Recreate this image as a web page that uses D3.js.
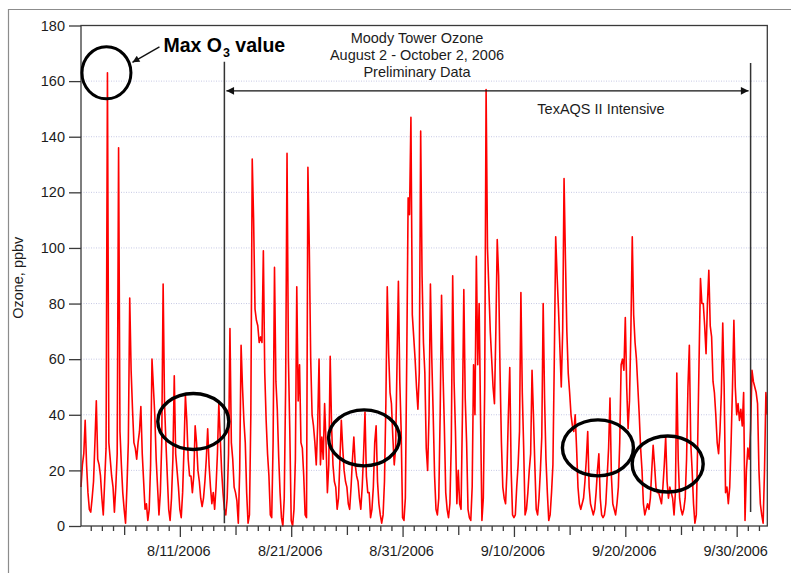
<!DOCTYPE html>
<html>
<head>
<meta charset="utf-8">
<script src="https://cdn.jsdelivr.net/npm/d3@7"></script>
<style>
  html, body { margin: 0; padding: 0; background: #fff; }
  svg { display: block; font-family: "Liberation Sans", Arial, Helvetica, sans-serif; }
</style>
</head>
<body>
<svg id="chart" width="791" height="573"></svg>
<script>
// Moody Tower ozone, 3-hourly readings (ppbv), first reading 2006-08-02 03:00 local time
const startTime = "2006-08-02T03:00";
const stepHours = 3;
const ozone = [
  /* Aug 02 */      14, 22, 26, 38, 22, 12, 6,
  /* Aug 03 */  5, 10, 16, 30, 45, 24, 22, 18,
  /* Aug 04 */ 10,  4, 16, 28, 163, 30, 24, 18,
  /* Aug 05 */ 14,  5, 14, 26, 136, 34, 22, 12,
  /* Aug 06 */  6,  1, 14, 30, 82, 56, 42, 30,
  /* Aug 07 */ 28, 24, 30, 34, 43, 26, 16, 6,
  /* Aug 08 */  8,  2,  6, 22, 60, 50, 40, 24,
  /* Aug 09 */ 14,  4, 12, 30, 87, 44, 30, 18,
  /* Aug 10 */  6,  2, 10, 24, 54, 26, 20, 14,
  /* Aug 11 */  6,  3, 12, 28, 47, 38, 24, 18,
  /* Aug 12 */ 18, 12, 18, 36, 30, 20, 16, 10,
  /* Aug 13 */  7, 10, 16, 24, 35, 22, 14, 8,
  /* Aug 14 */ 12,  6, 14, 26, 44, 32, 20, 12,
  /* Aug 15 */  6,  4, 10, 26, 71, 30, 24, 14,
  /* Aug 16 */ 12,  9,  1, 20, 65, 50, 38, 30,
  /* Aug 17 */ 12,  1,  4, 40, 132, 110, 78, 74,
  /* Aug 18 */ 72, 66, 68, 66, 99, 55, 38, 26,
  /* Aug 19 */ 18,  4,  3, 30, 93, 52, 42, 25,
  /* Aug 20 */ 12,  3,  0, 10, 50, 134, 60, 34,
  /* Aug 21 */  2,  0,  6, 24, 86, 45, 58, 30,
  /* Aug 22 */ 28, 18,  4,  3, 129, 100, 60, 40,
  /* Aug 23 */ 36, 30, 22, 36, 60, 22, 32, 24,
  /* Aug 24 */ 44, 30, 12, 22, 61, 36, 22, 16,
  /* Aug 25 */ 14,  6, 10, 24, 38, 28, 20, 16,
  /* Aug 26 */ 14,  8,  6, 14, 24, 32, 22, 18,
  /* Aug 27 */ 16, 10,  6, 14, 26, 41, 18, 12,
  /* Aug 28 */ 12,  3,  6, 14, 30, 36, 16, 8,
  /* Aug 29 */  4,  1,  4, 16, 44, 86, 62, 48,
  /* Aug 30 */ 44, 32, 22, 28, 58, 88, 52, 34,
  /* Aug 31 */  3,  2, 10, 60, 118, 112, 147, 76,
  /* Sep 01 */ 68, 60, 50, 42, 55, 142, 90, 66,
  /* Sep 02 */ 55, 28, 20, 40, 87, 60, 40, 18,
  /* Sep 03 */  6,  4, 10, 40, 83, 56, 36, 12,
  /* Sep 04 */  6,  3,  8, 30, 90, 52, 34, 8,
  /* Sep 05 */ 20,  8,  6, 40, 85, 46, 30, 6,
  /* Sep 06 */  3,  2, 14, 58, 40, 97, 58, 80,
  /* Sep 07 */ 40,  2, 10, 50, 157, 100, 85, 70,
  /* Sep 08 */ 60, 50, 44, 70, 103, 90, 56, 30,
  /* Sep 09 */ 14, 10,  8, 20, 40, 57, 20, 4,
  /* Sep 10 */  3,  4, 14, 22, 34, 84, 48, 28,
  /* Sep 11 */  4,  6, 12, 20, 26, 56, 40, 22,
  /* Sep 12 */  6,  4, 10, 20, 32, 80, 46, 24,
  /* Sep 13 */ 12,  2,  4, 12, 22, 60, 104, 90,
  /* Sep 14 */ 78, 64, 50, 70, 125, 96, 70, 55,
  /* Sep 15 */ 48, 40, 36, 34, 40, 28, 14, 8,
  /* Sep 16 */  6,  8, 10, 16, 24, 34, 14, 8,
  /* Sep 17 */  6,  4,  6, 12, 20, 26, 10, 4,
  /* Sep 18 */  3,  4,  8, 18, 28, 46, 18, 8,
  /* Sep 19 */  6,  4,  8, 14, 30, 58, 60, 56,
  /* Sep 20 */ 75, 50, 35, 45, 70, 104, 76, 66,
  /* Sep 21 */ 60, 50, 40, 28, 20,  8,  4, 6,
  /* Sep 22 */  8,  6, 10, 20, 29, 22, 14, 12,
  /* Sep 23 */ 12, 10,  8, 14, 22, 32, 16, 10,
  /* Sep 24 */ 14, 12, 10,  4, 12, 55, 24, 10,
  /* Sep 25 */  6,  4,  6, 10, 24, 50, 65, 30,
  /* Sep 26 */ 20,  8,  1,  4, 30, 60, 89, 80,
  /* Sep 27 */ 80, 72, 62, 80, 92, 72, 68, 52,
  /* Sep 28 */ 48, 40, 30, 26, 34, 48, 73, 50,
  /* Sep 29 */ 12, 14,  8, 14, 30, 50, 74, 50,
  /* Sep 30 */ 40, 44, 38, 42, 36, 48,  2, 20,
  /* Oct 01 */ 28, 24, 35, 56, 52, 50, 48, 44,
  /* Oct 02 */ 20,  8,  4,  1, 20, 48, 40
];

const yTicks = [0, 20, 40, 60, 80, 100, 120, 140, 160, 180];
const xLabelDates = ["2006-08-11", "2006-08-21", "2006-08-31", "2006-09-10", "2006-09-20", "2006-09-30"];
const xLabelTexts = ["8/11/2006", "8/21/2006", "8/31/2006", "9/10/2006", "9/20/2006", "9/30/2006"];
const titleLines = ["Moody Tower Ozone", "August 2 - October 2, 2006", "Preliminary Data"];
const yAxisTitle = "Ozone, ppbv";
const intensiveLabel = "TexAQS II Intensive";
const intensiveStart = "2006-08-15T00:00";
const intensiveEnd = "2006-10-01T06:00";
// low-ozone stretches that are ringed on the plot
const lowOzoneRings = [
  { at: "2006-08-12T05:00", ppbv: 37.6 },
  { at: "2006-08-27T13:00", ppbv: 31.7 },
  { at: "2006-09-17T13:00", ppbv: 28.1 },
  { at: "2006-09-23T19:20", ppbv: 22.3 }
];

const parseTime = d3.timeParse("%Y-%m-%dT%H:%M");
const parseDay = d3.timeParse("%Y-%m-%d");
const t0 = parseTime(startTime);
const series = ozone.map((v, i) => ({ t: d3.timeHour.offset(t0, i * stepHours), v }));

const svg = d3.select("#chart");
const plot = { left: 81, right: 767.3, top: 25.5, bottom: 526 };

const x = d3.scaleTime().domain(d3.extent(series, d => d.t)).range([plot.left, plot.right]);
const y = d3.scaleLinear().domain([0, 180]).range([plot.bottom, plot.top]);

const ink = "#1c1c1c";
const axisColor = "#3a3a3a";

// page border from the surrounding document
svg.append("line").attr("x1", 8).attr("x2", 791).attr("y1", 9.5).attr("y2", 9.5)
  .attr("stroke", "#8c8c8c").attr("stroke-width", 1.2);
svg.append("line").attr("x1", 8.5).attr("x2", 8.5).attr("y1", 9).attr("y2", 573)
  .attr("stroke", "#8c8c8c").attr("stroke-width", 1.2);

// arrowhead markers
const defs = svg.append("defs");
function arrowMarker(id, size) {
  defs.append("marker").attr("id", id)
    .attr("viewBox", "0 0 10 10").attr("refX", 10).attr("refY", 5)
    .attr("markerUnits", "userSpaceOnUse")
    .attr("markerWidth", size).attr("markerHeight", size * 0.7)
    .attr("orient", "auto-start-reverse")
    .append("path").attr("d", "M0,0 L10,5 L0,10 Z").attr("fill", "#111");
}
arrowMarker("arrowHead", 11);
arrowMarker("arrowSmall", 10);

// dotted horizontal grid
svg.append("g").selectAll("line")
  .data(yTicks.filter(v => v > 0 && v < 180))
  .join("line")
  .attr("x1", plot.left).attr("x2", plot.right)
  .attr("y1", d => y(d)).attr("y2", d => y(d))
  .attr("stroke", "#c6c8e4").attr("stroke-width", 1)
  .attr("stroke-dasharray", "1,1.5");

// ozone trace
const line = d3.line().x(d => x(d.t)).y(d => y(d.v));
svg.append("path").datum(series)
  .attr("d", line)
  .attr("fill", "none")
  .attr("stroke", "#ff0000")
  .attr("stroke-width", 1.6)
  .attr("stroke-linejoin", "round");

// plot frame
svg.append("rect")
  .attr("x", plot.left).attr("y", plot.top)
  .attr("width", plot.right - plot.left).attr("height", plot.bottom - plot.top)
  .attr("fill", "none").attr("stroke", axisColor).attr("stroke-width", 1.3);

// y axis
const yAxis = d3.axisLeft(y).tickValues(yTicks).tickSize(12).tickPadding(4).tickSizeOuter(0);
const gy = svg.append("g").attr("transform", `translate(${plot.left},0)`).call(yAxis);
gy.select(".domain").remove();
gy.selectAll(".tick line").attr("stroke", axisColor).attr("stroke-width", 1.3);
gy.selectAll(".tick text").attr("fill", ink).attr("font-size", 14.5)
  .attr("font-family", "'Liberation Sans', Arial, sans-serif");

// x axis: daily ticks, longer every 5 and 10 days
const aug1 = parseDay("2006-08-01");
const days = d3.timeDay.range(d3.timeDay.ceil(x.domain()[0]), x.domain()[1]);
function tickLen(d) {
  const n = d3.timeDay.count(aug1, d);
  if (n % 10 === 0) return 11;
  if (n % 5 === 0) return 9;
  return 5;
}
const xAxis = d3.axisBottom(x).tickValues(days).tickSize(5).tickFormat("").tickSizeOuter(0);
const gx = svg.append("g").attr("transform", `translate(0,${plot.bottom})`).call(xAxis);
gx.select(".domain").remove();
gx.selectAll(".tick line").attr("y2", d => tickLen(d)).attr("stroke", axisColor).attr("stroke-width", 1.3);

svg.append("g").selectAll("text")
  .data(xLabelDates.map((d, i) => ({ t: parseDay(d), label: xLabelTexts[i] })))
  .join("text")
  .attr("x", d => x(d.t) - 1).attr("y", 556)
  .attr("text-anchor", "middle")
  .attr("font-size", 14.5).attr("fill", ink)
  .text(d => d.label);

// y axis title
svg.append("text")
  .attr("transform", `translate(23,${(plot.top + plot.bottom) / 2 + 2}) rotate(-90)`)
  .attr("text-anchor", "middle").attr("font-size", 14.5).attr("fill", ink)
  .text(yAxisTitle);

// chart title
svg.append("g").selectAll("text").data(titleLines).join("text")
  .attr("x", 417).attr("y", (d, i) => 43 + i * 17)
  .attr("text-anchor", "middle").attr("font-size", 14.5).attr("fill", ink)
  .text(d => d);

// TexAQS II intensive period
const xs = x(parseTime(intensiveStart));
const xe = x(parseTime(intensiveEnd));
svg.append("line").attr("x1", xs).attr("x2", xs).attr("y1", y(167)).attr("y2", y(1))
  .attr("stroke", "#333").attr("stroke-width", 1.5);
svg.append("line").attr("x1", xe).attr("x2", xe).attr("y1", y(166.5)).attr("y2", y(5))
  .attr("stroke", "#333").attr("stroke-width", 1.5);
svg.append("line")
  .attr("x1", xs + 2).attr("x2", xe - 2)
  .attr("y1", y(156.5)).attr("y2", y(156.5))
  .attr("stroke", "#111").attr("stroke-width", 1.3)
  .attr("marker-start", "url(#arrowHead)").attr("marker-end", "url(#arrowHead)");
svg.append("text")
  .attr("x", 601).attr("y", 113.5).attr("text-anchor", "middle")
  .attr("font-size", 14.5).attr("fill", ink)
  .text(intensiveLabel);

// maximum reading
const iMax = d3.maxIndex(series, d => d.v);
const mx = x(series[iMax].t), my = y(series[iMax].v);
svg.append("ellipse").attr("cx", mx - 1).attr("cy", my).attr("rx", 24.5).attr("ry", 26)
  .attr("fill", "none").attr("stroke", "#000").attr("stroke-width", 3);
svg.append("line")
  .attr("x1", mx + 52).attr("y1", my - 26).attr("x2", mx + 25).attr("y2", my - 10.5)
  .attr("stroke", "#111").attr("stroke-width", 1.4)
  .attr("marker-end", "url(#arrowSmall)");
const maxLabel = svg.append("text")
  .attr("x", mx + 56).attr("y", my - 20.5)
  .attr("font-size", 19.5).attr("font-weight", "bold").attr("fill", "#000");
maxLabel.append("tspan").text("Max O");
maxLabel.append("tspan").attr("font-size", 12.5).attr("dx", 1).attr("dy", 4.5).text("3");
maxLabel.append("tspan").attr("dy", -4.5).text(" value");

// rings around quiet periods
svg.append("g").selectAll("ellipse").data(lowOzoneRings).join("ellipse")
  .attr("cx", d => x(parseTime(d.at))).attr("cy", d => y(d.ppbv))
  .attr("rx", 35.5).attr("ry", 28)
  .attr("fill", "none").attr("stroke", "#000").attr("stroke-width", 3.4);
</script>
</body>
</html>
